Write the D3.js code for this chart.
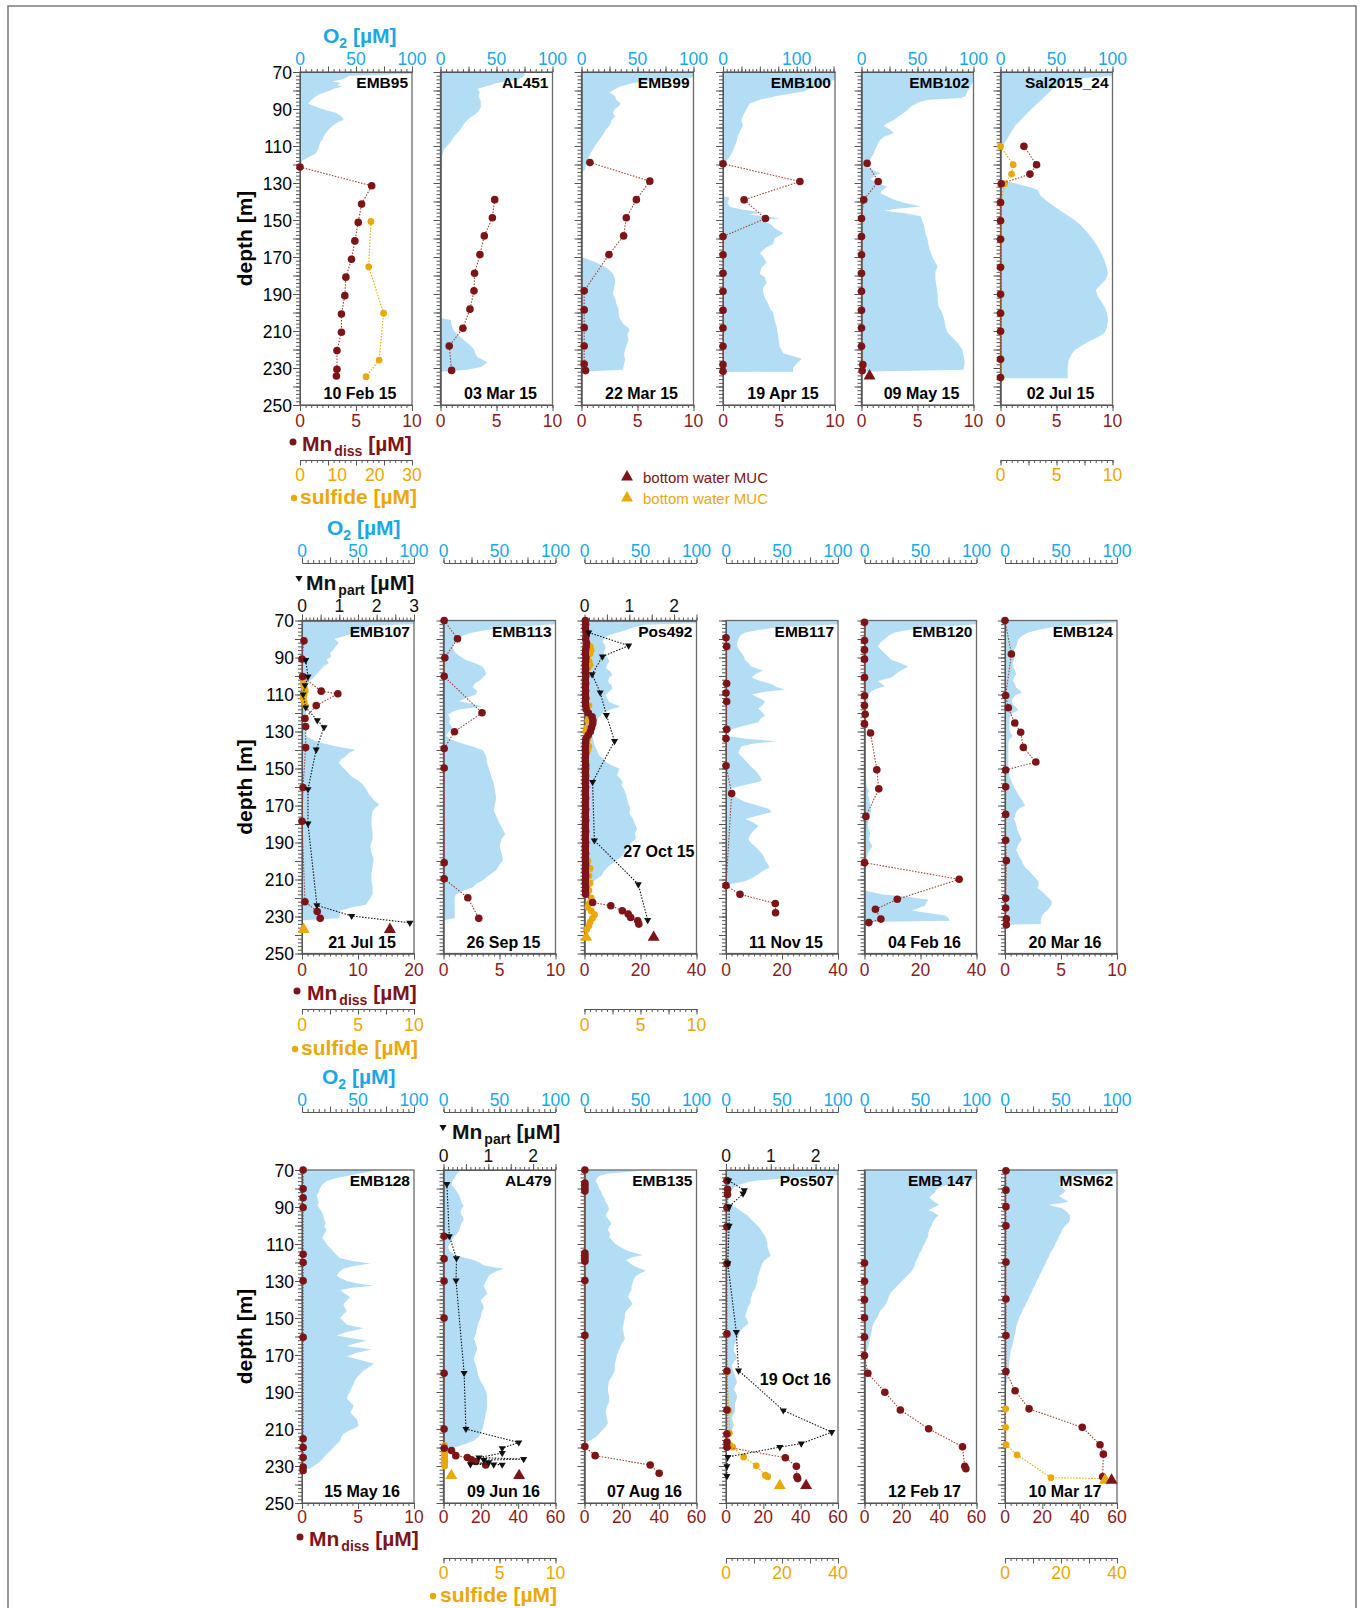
<!DOCTYPE html>
<html>
<head>
<meta charset="utf-8">
<script src="https://cdnjs.cloudflare.com/ajax/libs/d3/7.8.5/d3.min.js"></script>
<style>
body { margin: 0; background: #fff; }
svg { display: block; font-family: "Liberation Sans", Arial, sans-serif; }
</style>
</head>
<body>
<svg id="chart" width="1363" height="1608"></svg>
<script>
// ---- station names, dates and axis ranges (row by row) ----
var stations = [
  ["EMB95", "AL451", "EMB99", "EMB100", "EMB102", "Sal2015_24"],
  ["EMB107", "EMB113", "Pos492", "EMB117", "EMB120", "EMB124"],
  ["EMB128", "AL479", "EMB135", "Pos507", "EMB 147", "MSM62"]
];
var dates = [
  ["10 Feb 15", "03 Mar 15", "22 Mar 15", "19 Apr 15", "09 May 15", "02 Jul 15"],
  ["21 Jul 15", "26 Sep 15", "27 Oct 15", "11 Nov 15", "04 Feb 16", "20 Mar 16"],
  ["15 May 16", "09 Jun 16", "07 Aug 16", "19 Oct 16", "12 Feb 17", "10 Mar 17"]
];
var o2Max = [[100, 100, 100, 152, 100, 100], [100, 100, 100, 100, 100, 100], [100, 100, 100, 100, 100, 100]];
var mnMax = [[10, 10, 10, 10, 10, 10], [20, 10, 40, 40, 40, 10], [10, 60, 60, 60, 60, 60]];
var sulfMax = [[30, 0, 0, 0, 0, 10], [10, 0, 10, 0, 0, 0], [0, 10, 0, 40, 0, 40]];
var partMax = [[0, 0, 0, 0, 0, 0], [3, 0, 2.5, 0, 0, 0], [0, 2.5, 0, 2.5, 0, 0]];
var mnTickLabels = { 10: [0, 5, 10], 20: [0, 10, 20], 40: [0, 20, 40], 60: [0, 20, 40, 60] };
var sulfTickLabels = { 10: [0, 5, 10], 30: [0, 10, 20, 30], 40: [0, 20, 40] };
var depthLabels = [70, 90, 110, 130, 150, 170, 190, 210, 230, 250];

// ---- row 1 profiles: [depth m, value] ----
var o2_EMB95 = [[70,100],[71,100],[72,44],[74,38],[75,29],[76,36],[77,33],[78,38],[79,30],[80,27],[82,17],[84,12],[86,9],[87,7],[88,11],[89.5,17],[91,25],[92,32],[94,37],[96,39],[97,34],[99,29],[101,26],[103,23],[105,21],[106.6,20],[108,18],[110,17],[112,16],[114,14],[116,8],[118,2],[120,0]];
var mn_EMB95 = [[121.4,0],[131.5,6.4],[141.4,5.5],[151.3,5.2],[161.3,4.9],[171.2,4.6],[180.9,4.1],[190.9,4.0],[200.8,3.7],[210.7,3.7],[220.6,3.3],[230.7,3.3],[234.3,3.25]];
var sulf_EMB95 = [[150.8,19.0],[175.3,18.4],[200.4,22.4],[225.7,21.2],[234.7,17.7]];

var o2_AL451 = [[70,75],[72,75],[74,70],[76,50],[77,45],[79,33],[81,35],[83,34],[86,36],[89,36],[92,33],[94,28],[96,24],[98,21],[101,18],[105,12],[108,9],[112,3],[116,1],[120,1.5],[124,1],[128,1],[132,0],[203,0],[204,9],[207,10],[210,12],[213,17],[215,21],[218,27],[220,30],[222,31],[224,33],[227,42],[229.5,36],[231,24],[232,0]];
var mn_AL451 = [[139,4.84],[148.8,4.63],[158.6,3.91],[168.7,3.52],[178.8,3.04],[188.3,2.99],[198.2,2.63],[208.5,2.0],[218.1,0.78],[231.3,0.99]];

var o2_EMB99 = [[70,100],[73,100],[74,70],[76,46],[78,34],[80,28],[81,25],[83,30],[85,31],[87,35],[88.6,33],[90,30],[92,28],[94,30],[96,27],[99,25],[101,22],[104,19],[106.6,16],[109,13],[112,10],[114,8],[117,6],[120,4],[123,3],[124,0],[170,0],[171,4.5],[173,13],[175,20],[177,25],[179,28],[182,30],[184,30],[187,29],[190,28],[192,30],[195,31],[198,33],[200,33],[203,34],[206,37],[209,43],[212,41],[215,42],[218,40],[220,39],[223,38],[225.6,39],[228,38],[231,37],[232,0]];
var mn_EMB99 = [[118.9,0.75],[129,6.1],[139,4.9],[148.8,4.0],[158.6,3.76],[168.7,2.45],[188.3,0.24],[198.6,0.24],[208.2,0.24],[218.1,0.24],[227.8,0.24],[231.4,0.36]];

var o2_EMB100 = [[70,152],[74,152],[76,141],[78,125],[80.5,109],[83,73],[85,50],[87,36],[90,32],[93,28],[96,25],[99,27],[102,23],[105,20],[108,18],[110,16],[113,13],[116,9],[118,5],[120,2],[121,0],[137,0],[138,9],[141,6],[143,10],[144.5,27],[146,55],[147,35],[149,77],[150.5,50],[152,64],[155,72],[157,82],[160,70],[163,68],[165,58],[168,50],[170,55],[173,59],[176,52],[179,50],[181,57],[184,59],[187,54],[190,55],[193,58],[195,61],[198,64],[200,68],[204,70],[208,73],[213,75],[216,76],[218.5,77],[222,82],[225,107],[227.5,100],[230,95],[232,95],[232.1,0]];
var mn_EMB100 = [[119.6,0],[129.2,6.87],[139.1,1.88],[149.2,3.79],[158.9,0],[168.8,0],[178.8,0],[188.5,0],[198.8,0],[208.4,0],[218.3,0],[228.2,0],[231.8,0]];

var o2_EMB102 = [[70,100],[75,100],[77,98],[80,95],[83,93],[84,89],[85,60],[86,53],[88.6,44],[90,42],[92,38],[94,33],[96,29],[98,22],[99,20],[101,25],[103,29],[105,20],[106.6,17],[108,15],[110,14],[112,12],[114,11],[116,9],[117,8],[119,6],[121,5],[123,10],[124.7,17],[126,12],[128,8],[130,15],[132,23],[134,18],[135.5,17],[137,22],[139,29],[141,40],[142.7,53],[144,30],[145,20],[146.5,40],[148,53],[150,54],[153.5,56],[157,57],[160.7,59],[164,60],[168,62],[171,64],[175,68],[178,66],[182,66],[186,67],[190,68],[194,68],[197,69],[200,72],[204,74],[208,75],[211,77],[214,82],[216.6,86],[220,90],[223,91],[225.6,92],[228,92],[231,91],[232,0]];
var mn_EMB102 = [[119.3,0.5],[129.2,1.49],[139.1,0.2],[149.2,0],[158.9,0],[168.8,0],[178.8,0],[188.5,0],[198.8,0],[208.4,0],[218.3,0],[228.2,0.12],[231.5,0.06]];
var muc_EMB102 = [[234.3,0.72]];

var o2_Sal = [[70,100],[72,100],[73,80],[74,65],[76,55],[78,48],[80,45],[83,40],[86,35],[88.6,30],[91,26],[94,21],[96,18],[99,13],[102,10],[105,7],[107,5],[109,3],[111,1],[113,0],[128,0],[129,5],[130,12],[132,25],[133.7,33],[137,36],[140,42],[142.7,48],[146,56],[150,66],[153,72],[157,78],[161,83],[164.6,87],[168,90],[172,93],[176,95],[179,96],[182,94],[184,91],[186,88],[188,85],[191.5,87],[194,90],[197,93],[200,95],[204,96],[208,95],[211,93],[213,88],[215,81],[217,75],[220,67],[222,64],[225.6,61],[229,60],[233,60],[235.5,60],[235.6,0]];
var mn_Sal = [[110.2,2.09],[120.1,3.22],[125.2,2.63],[130.4,0.06],[140.5,0],[150.4,0],[160.4,0],[175.5,0],[190.1,0],[200.4,0],[210.2,0],[225.3,0],[235.2,0]];
var sulf_Sal = [[110.2,0],[120.1,1.13],[125.2,0.99],[130.4,0.36],[140.5,0.05],[150.4,0.05],[160.4,0.05],[175.5,0.05],[190.1,0.05],[200.4,0.05],[210.2,0.05],[225.3,0.05],[235.2,0.05]];

// ---- row 2 profiles ----
var o2_EMB107 = [[70,100],[72,100],[72.8,60],[74.5,55],[76.5,51],[78,40],[80,29],[82,33],[84,30],[86,28],[87.7,25],[89.5,26],[91.4,22],[93,24],[95,19],[97,16],[99,13],[101,10],[102.6,7],[104,5],[106,4],[110,2],[116,1.5],[121,4],[124,2],[128.6,5],[132,3],[134,8],[136,16],[138,30],[140,48],[141.5,42],[143.5,39],[145,35],[147,33],[149,36],[151,39],[153,42],[154.7,45],[156.5,50],[158.4,54],[161,57],[164,60],[167,64],[169.6,69],[171,66],[173,63],[177,62],[180.8,62],[184,63],[188,63],[192,61],[195.6,62],[199,64],[203,63],[207,62],[210.5,62],[214,63],[218,63],[221,60],[223.6,57],[225,45],[227,33],[229,34],[231,33],[232,0]];
var mn_EMB107 = [[81,0.35],[90.8,0],[100.3,0.1],[108.2,3.43],[109.6,6.4],[116,2.54],[123,0.53],[127.3,0.65],[138.7,0.65],[160.3,0.18],[178.5,0],[222,0.53],[227.3,2.72],[231,3.25]];
var part_EMB107 = [[91.4,0.1],[100.3,0.16],[105,0.08],[110,0.03],[117,0.1],[124,0.41],[127.7,0.59],[139.8,0.38],[161.2,0.16],[179.8,0.16],[224,0.4],[229.7,1.33],[233.4,2.89]];
var sulf_EMB107 = [[104,0.1],[106,0.2],[108,0.3],[110,0.2],[112,0.1],[114,0.2],[116,0.3]];
var muc_EMB107 = [[237,15.7]];
var mucS_EMB107 = [[237,0.15]];

var o2_EMB113 = [[70,100],[72,100],[73.7,58],[75,40],[76.5,26],[78,18],[80,14],[82,10],[84,8],[86,9],[87.7,11],[89.5,15],[91.4,20],[93,28],[95,35],[97,37],[99,38],[101,35],[102.6,32],[104,28],[106,26],[108,30],[110,29],[112,20],[113.7,14],[115,25],[116.5,35],[118,15],[119.3,8],[121,4],[123,6],[125,5],[127,7],[128.6,8],[130,5],[132,2],[134,6],[136,14],[138,25],[140,35],[142,37],[143.5,38],[147,39],[151,41],[155,43],[158.4,45],[162,46],[166,47],[169,46],[173,45],[177,48],[180.8,51],[183,53],[185.4,55],[188,52],[192,50],[196,52],[199.4,53],[202,50],[205,47],[208,40],[210.5,35],[212,30],[214.3,26],[216,18],[218,11],[220,10],[223.6,10],[227,10],[231,10],[232,0]];
var mn_EMB113 = [[70,0.06],[79.9,1.25],[90.1,0.12],[100.2,0.06],[119.9,3.44],[130.1,0.98],[139.2,0.06],[149.7,0.06],[200.9,0.06],[209.6,0.06],[219.9,2.17],[231,3.15]];

var o2_Pos492 = [[70,100],[71.5,100],[72.3,54],[73.5,45],[75,38],[76.5,30],[77.8,22],[79.5,18],[81.4,16],[83,18],[85,19],[87,17],[88.6,18],[90.5,21],[92.2,22],[94,20],[95.8,19],[97.5,23],[99.5,25],[101,22],[103,21],[105,24],[106.7,25],[108.5,22],[110.3,19],[112,20],[114,22],[115.5,28],[116.6,32],[118,24],[119.3,19],[121,15],[123,12],[125,11],[126.6,10],[129,8],[132,7],[135,8],[137.4,9],[140,11],[142.8,13],[144.5,16],[146.5,19],[148.5,25],[150,31],[152,30],[153.7,29],[155.5,32],[157.3,34],[159,33],[161,35],[164,37],[166.3,38],[169,39],[171.8,41],[174,40],[177,43],[180,45],[182.6,47],[185,45],[188,46],[190,42],[193.4,37],[195,36],[197,34],[200,28],[202.5,22],[205,18],[208,15],[210,10],[211.5,7],[213,5],[215,3],[218.7,0]];
var mn_Pos492 = [[70,0.3],[72,0.4],[74,0.3],[76,0.5],[78,0.6],[80,0.4],[82,0.7],[84,0.6],[86,0.4],[88,0.3],[90,0.5],[92,0.4],[94,0.3],[96,0.4],[98,0.3],[100,0.4],[102,0.3],[104,0.4],[106,0.3],[108,0.4],[110,0.3],[112,0.4],[114,0.3],[116,0.4],[118,0.6],[120,1.4],[122,2.7],[124,3.0],[126,2.9],[128,2.5],[130,2.1],[132,1.3],[134,0.5],[136,0.4],[138,0.3],[140,0.3],[142,0.4],[144,0.3],[146,0.3],[148,0.4],[150,0.3],[152,0.3],[154,0.4],[156,0.3],[158,0.3],[160,0.4],[162,0.3],[164,0.3],[166,0.4],[168,0.3],[170,0.3],[172,0.4],[174,0.3],[176,0.3],[178,0.4],[180,0.3],[182,0.3],[184,0.4],[186,0.3],[188,0.3],[190,0.4],[192,0.3],[194,0.3],[196,0.4],[198,0.3],[200,0.3],[202,0.4],[204,0.3],[206,0.3],[208,0.4],[210,0.3],[212,0.3],[214,0.4],[216,0.3],[218,0.4],[222.4,2.9],[224.2,9.4],[226.9,13.5],[228.7,15.6],[230.5,16.5],[232.3,19],[234.1,19.4]];
var part_Pos492 = [[76.5,0.095],[83.6,0.985],[89.5,0.4],[99.1,0.17],[108.9,0.35],[121.1,0.49],[135.2,0.67],[157.3,0.18],[188.9,0.22],[212.6,1.2],[231.9,1.41]];
var sulf_Pos492 = [[84,0.5],[86,0.6],[88,0.5],[92,0.4],[94,0.5],[96,0.3],[100,0.2],[112,0.2],[116,0.4],[124,0.3],[128,0.2],[130,0.1],[134,0.3],[138,0.4],[140,0.3],[150,0.2],[200,0.3],[204,0.5],[208,0.4],[212,0.5],[216,0.4],[220,0.6],[223,0.4],[225,0.3],[227,0.6],[229,0.9],[231,0.7],[233,0.5],[235,0.4],[237,0.2]];
var muc_Pos492 = [[241.3,24.7]];
var mucS_Pos492 = [[241.3,0.15]];

var o2_EMB117 = [[70,100],[72,100],[73.7,47],[75,30],[76.5,17],[78,13],[80,11],[82,10],[84,10],[86,12],[87.7,14],[89.5,16],[91.4,17],[93,20],[95,23],[97,33],[99,26],[100.8,23],[102.5,30],[104.5,41],[106,45],[107.3,53],[108.5,35],[110,23],[112,30],[113.8,35],[115.5,33],[117.6,29],[119.5,32],[121.3,35],[123,31],[125,29],[127,15],[128.8,5],[130.5,3],[132.5,2],[134,20],[135.3,45],[136.5,25],[138,14],[140,12],[141.8,11],[143.5,14],[145.6,17],[147.5,20],[149.3,23],[151,26],[153,29],[155,31],[156.8,32],[158.5,20],[160.5,5],[162.5,4],[164.2,5],[166,10],[168,17],[170,28],[171.7,38],[173.5,41],[175.5,28],[177.3,17],[179,24],[181,29],[183,26],[184.7,23],[186.5,21],[188.5,20],[190.5,23],[192.2,26],[194,29],[196,32],[198,34],[199.7,35],[201.5,37],[203.4,39],[205,34],[207,29],[209,24],[211,17],[212.7,2],[213.5,0]];
var mn_EMB117 = [[79.3,0],[84,0.24],[104.1,0.24],[109.2,0],[113.8,0.24],[128.8,0.24],[133.8,0],[148.5,0],[163.5,2.03],[213.3,0],[218,5.0],[223,17.6],[228,17.7]];

var o2_EMB120 = [[70,100],[72,100],[73.7,60],[75,40],[76.5,27],[78,22],[80,18],[82,14],[84,12],[86,15],[87.7,18],[89.5,21],[91.4,24],[93,32],[95,39],[96.5,34],[98,30],[99.5,27],[100.8,24],[102.7,12],[104,15],[105.5,18],[107,10],[108.3,6],[110,4],[113,3],[116,2],[120,1],[125,0.5],[150,0.5],[155,1],[160,2],[162,4],[164,3],[166,4],[170,5],[173,6],[177,4],[181,3],[185,5],[188.5,4],[192,7],[196,3],[199.7,2],[203,1],[208,0.5],[216,0.5],[218,15],[219.5,40],[221,57],[222.5,55],[224,54],[225.5,48],[226.7,42],[228,55],[229.5,72],[231,75],[232.3,76],[233,0]];
var mn_EMB120 = [[71,0],[80.8,0],[85.9,0],[90.9,0],[100.8,0],[110.7,0],[116,0],[120.7,0.24],[125.9,0],[130.8,2.15],[150.7,4.4],[161,5.1],[175.9,0.5],[200.9,0],[209.9,33.8],[220.7,11.7],[226.1,3.9],[231.4,5.85],[233.3,1.55]];

var o2_EMB124 = [[70,100],[71,100],[72.5,70],[73.7,42],[75,30],[76.5,21],[78,16],[80,12],[82,11],[84,10],[86,8],[87.7,7],[89.5,9],[91.4,8],[93,7],[95,7],[97,9],[99,10],[101,8],[102.6,7],[104.5,9],[106.3,10],[107.5,13],[109,15],[110.5,9],[112,7],[114,6],[116,8],[117.5,11],[118.5,12],[120,7],[121.3,5],[123,4],[125,4],[127,4],[129,4],[131,5],[132.5,7],[134,4],[136,3],[140,3],[145,3],[150,3],[154,4],[156,5],[158.6,7],[161,9],[164.2,12],[167,15],[170,18],[171.5,13],[173.5,10],[175.5,9],[177.3,8],[180,10],[183,11],[186,13],[188.5,15],[191,12],[194,10],[197,12],[199.7,15],[201.5,16],[203.4,18],[205,21],[207,24],[209,27],[211,30],[213,30],[214.6,29],[216.5,33],[218.3,36],[220,39],[222,42],[224,41],[225.8,39],[227.5,36],[229.5,33],[232,32],[234,32],[234.5,0]];
var mn_EMB124 = [[70,0],[88.1,0.57],[110.5,0.06],[117.2,0.3],[125.4,0.87],[130.4,1.4],[138.6,1.64],[146.5,2.75],[150.8,0.06],[159.9,0.06],[174.8,0.06],[188.8,0.06],[199.8,0.12],[220.2,0.06],[225.4,0.06],[231.3,0.12],[234.5,0.12]];

// ---- row 3 profiles ----
var o2_EMB128 = [[70,100],[70.4,64],[71.5,55],[73.2,40],[74.5,30],[76,22],[78,18],[80,16],[82,15],[83.6,13],[85.5,14],[87.4,15],[89.3,14],[91.2,16],[93,18],[95,19],[97,20],[98.8,21],[100.7,20],[102.6,22],[104.5,20],[106.4,18],[108.3,20],[110.2,22],[112,25],[114,28],[116,31],[117.7,34],[119.2,45],[120.6,61],[122,45],[123.4,37],[125.3,33],[127.2,31],[128.6,35],[130,40],[131.3,50],[132.5,64],[133.6,45],[134.8,34],[136.7,38],[138.6,43],[140.5,40],[142.4,37],[144.3,38],[146.2,40],[148,37],[150,34],[151.8,37],[153.7,40],[155.6,55],[157.5,40],[159.4,31],[161,45],[162.3,58],[163.7,48],[165.1,40],[167,62],[168.9,48],[170.8,40],[172.7,52],[174.6,64],[176.5,60],[178.4,55],[180.3,52],[182.2,49],[184,47],[186,46],[188,44],[189.7,43],[191.6,41],[193.5,40],[195.4,43],[197.3,46],[199.2,45],[201,43],[203,46],[204.9,49],[206.8,50],[208.7,50],[210.6,43],[212.5,37],[214.4,35],[216.3,34],[218.2,31],[220,28],[222,25],[223.8,22],[225.7,19],[227.6,16],[229.5,12],[231.4,7],[232,0]];
var mn_EMB128 = [[70,0.1],[80.2,0.1],[85,0.1],[90.3,0.1],[115.5,0.1],[120,0.1],[129.9,0.1],[160.4,0.1],[215.3,0.1],[220,0.1],[225.4,0.1],[230.5,0.1],[232.4,0.1]];

var o2_AL479 = [[70,18],[70.4,15],[72,12],[74,10],[76,8],[78,7],[80,10],[81.7,12],[83.6,14],[85.5,15],[87.4,16],[89.3,18],[91.2,16],[93,15],[95,17],[97,18],[98.8,16],[100.7,15],[102.6,14],[104.5,12],[106.4,9],[108.3,7],[110.2,5],[112,4],[114,6],[115.8,10],[117.3,18],[118.7,27],[120,32],[121.5,36],[122.5,45],[123.4,54],[124.8,47],[126.3,42],[127.7,40],[129.1,39],[131,37],[133,36],[135,38],[136.7,39],[138.6,36],[140.5,33],[142.4,35],[144.3,36],[147,34],[150,33],[153,31],[155.6,30],[158.5,29],[161.3,27],[164,29],[167,30],[170,28],[172.7,27],[175.5,29],[178.4,30],[181,31],[184,33],[187,36],[189.7,38],[192.5,39],[195.4,39],[198,39],[201,38],[204,37],[206.8,36],[209.6,35],[212.5,33],[214.4,31],[216.3,27],[218,20],[220,10],[222,0]];
var mn_AL479 = [[105.8,0.3],[118,0.3],[130,0.3],[150,0.3],[179.9,0.3],[210,0.3],[220.4,0.36],[221.6,4.3],[224.4,6.6],[225.4,12.8],[226.7,15],[227.6,17.3],[229.5,22.6]];
var part_AL479 = [[77.6,0.075],[105.8,0.13],[117.7,0.29],[129.7,0.28],[179.7,0.46],[210,0.5],[217.3,1.68],[220.4,1.31],[223,1.31],[225.4,0.79],[226.3,1.79],[226.8,0.9],[228,1.01],[229.1,0.6],[229.2,1.12],[229.3,1.31]];
var sulf_AL479 = [[219,0.1],[220,0.1],[221,0.1],[222,0.1],[223,0.1],[224,0.1],[225,0.1],[226,0.1],[227,0.1],[228,0.1],[229,0.1],[230,0.1]];
var muc_AL479 = [[235.2,40.5]];
var mucS_AL479 = [[235.2,0.7]];

var o2_EMB135 = [[70,60],[71,40],[72,20],[73.2,13],[74.5,11],[76,10],[78,12],[80,13],[81.7,15],[83.6,16],[85.5,18],[87.4,19],[89.3,21],[91.2,22],[93,20],[95,19],[97,22],[98.8,24],[100.7,22],[102.6,21],[104.5,23],[106.4,22],[108.3,25],[110.2,28],[112,33],[114,40],[115.9,52],[117.3,42],[118.7,37],[120,40],[121.5,43],[123,48],[124.4,55],[125.8,50],[127.2,46],[129,44],[131,43],[133,42],[134.8,42],[136.7,40],[138.6,39],[140.5,41],[142.4,43],[144.3,40],[146.2,37],[148,36],[150,36],[153,35],[155.6,34],[158.5,35],[161.3,36],[164,33],[167,31],[170,29],[172.7,28],[175.5,27],[178.4,27],[181,25],[184,22],[187,21],[189.7,21],[192.5,22],[195.4,22],[198,20],[201,19],[204,20],[206.8,21],[208.7,19],[210.6,16],[212.5,13],[214.4,10],[216,6],[217.2,1.5],[218,0]];
var mn_EMB135 = [[70,0.2],[77,0.2],[78.3,0.2],[79.9,0.2],[81.4,0.2],[114.9,0.2],[116.2,0.2],[117.7,0.2],[119.3,0.2],[129.7,0.2],[159.4,0.2],[219.5,0.2],[224.4,5.7],[229.5,35.2],[233.9,40]];

var o2_Pos507 = [[70,100],[72.8,100],[73.8,70],[74.7,48],[75.6,30],[76.6,19],[78,12],[79.4,7],[81,5],[83.2,4],[85,3],[87,2],[89,5],[90.7,10],[92.5,14],[94.5,19],[96.5,22],[98.3,25],[100,28],[102,31],[104,33],[105.8,35],[107.7,36],[109.6,37],[111.5,37],[113.3,38],[115,39],[116.2,40],[117.5,37],[119,34],[121,32],[122.8,31],[124.7,30],[126.5,29],[128.4,28],[130.3,28],[132.2,27],[134,26],[136,24],[137.9,23],[139.8,22],[141.6,22],[143.5,20],[145.4,19],[147.3,18],[149.2,17],[151,19],[153,20],[154.8,16],[156.7,13],[158.6,12],[160.5,11],[162.4,9],[164.2,8],[166,7],[168,7],[170,9],[171.8,10],[173.6,7],[175.5,5],[178,6],[181.2,8],[183,9],[185,10],[186.8,8],[188.7,7],[190.6,9],[192.5,10],[194.4,9],[196.3,8],[198,8],[200,8],[202,7],[203.8,5],[205.7,6],[207.6,7],[209.5,6],[211.3,5],[213,4],[215,2],[217,1],[219,0]];
var mn_Pos507 = [[75.7,0.5],[80.4,0.8],[83.2,0.8],[90.4,0.5],[100.7,0.5],[120.5,0.5],[158.6,0.5],[178.7,0.5],[199.7,0.5],[212.7,0.5],[217,0.5],[219.8,0.5],[225.5,31.8],[230.2,37.7],[235.8,38],[236.8,38.4]];
var part_Pos507 = [[75.7,0.06],[81,0.41],[82.8,0.38],[89.8,0.07],[100.2,0.07],[120.5,0.04],[157.6,0.23],[178.4,0.28],[200,1.28],[211.7,2.36],[217.9,1.68],[219.8,1.2],[225.1,0.04],[230.2,0.02],[235.5,0.02]];
var sulf_Pos507 = [[179.3,0.36],[200,1],[212.3,1.2],[218.9,1.5],[219.8,2.4],[225.1,6.3],[229.9,10.8],[235,14],[235.8,14.9]];
var muc_Pos507 = [[240.6,42.9]];
var mucS_Pos507 = [[240.6,19.2]];

var o2_EMB147 = [[70,100],[74.7,100],[75.5,95],[76.6,87],[78,75],[79.4,66],[80.8,64],[82.2,63],[83.6,60],[85,58],[87,62],[88.8,67],[90.2,62],[91.7,57],[93,62],[94.5,66],[96.4,63],[98.3,61],[100,60],[102,58],[104,57],[105.8,57],[107.7,55],[109.6,54],[111.5,52],[113.3,51],[115.2,49],[117.1,48],[119,46],[120.9,45],[122.8,44],[124.7,42],[126.5,39],[128.4,36],[130.3,33],[132.2,30],[134,27],[136,24],[137.9,22],[139.7,21],[141.6,20],[143.5,18],[145.4,15],[147.3,13],[149.2,12],[151,10],[153,8],[154.8,7],[156.7,6.5],[158.6,6],[160.5,5],[162.3,4.5],[164,4],[166,3],[168,2],[170,1.5],[172,1],[173.7,0.6],[177.4,0]];
var mn_EMB147 = [[120.3,0],[130.1,0],[140.1,0],[149.9,0],[160.3,0],[170.3,0],[179.9,1.8],[190.1,10.9],[199.7,19.2],[209.9,34.4],[219.6,52.5],[230.2,53.7],[231.5,54.3]];

var o2_MSM62 = [[70,100],[72,100],[73,70],[73.8,51],[75.5,50],[77.5,48],[79.5,51],[81.3,54],[82.5,52],[84.1,48],[85.5,52],[87,57],[88,50],[88.8,39],[89.8,45],[90.7,51],[92.5,55],[94.5,58],[96.5,58],[98.3,57],[100,54],[102,51],[104,50],[105.8,48],[107.7,47],[109.6,45],[111.5,44],[113.3,42],[115.2,40],[117.1,39],[119,37],[120.9,36],[122.8,34],[124.7,33],[126.5,31],[128.4,30],[130.3,28],[132.2,27],[134,25],[136,24],[137.9,22],[139.7,21],[141.6,19],[143.5,18],[145.4,16],[147.3,15],[149.2,13],[151,12],[153,11],[154.8,10],[156.7,9.5],[158.6,9],[160.5,8],[162.3,7.5],[164,7],[166,6],[168,5],[170,4.5],[172.5,4],[175.5,3.6],[178,3.2],[181.2,3],[183,2.2],[185,1.5],[188.7,0]];
var mn_MSM62 = [[70.4,0.5],[80.9,0.5],[89.8,0.5],[100.2,0.5],[119.8,0.5],[139.7,0.5],[159.5,0.5],[178.9,0.5],[189.3,5.4],[199.1,12.9],[209.1,41.4],[218.5,50.9],[223.6,52.7],[235.8,52.3]];
var sulf_MSM62 = [[199.1,0.24],[209.1,0.24],[218.5,0.36],[224,4.3],[236.3,16.4],[236.8,35.5]];
var muc_MSM62 = [[237.7,57.1]];
var mucS_MSM62 = [[237.7,35.7]];

// group the series per panel
var o2Data = [
  [o2_EMB95, o2_AL451, o2_EMB99, o2_EMB100, o2_EMB102, o2_Sal],
  [o2_EMB107, o2_EMB113, o2_Pos492, o2_EMB117, o2_EMB120, o2_EMB124],
  [o2_EMB128, o2_AL479, o2_EMB135, o2_Pos507, o2_EMB147, o2_MSM62]
];
var mnData = [
  [mn_EMB95, mn_AL451, mn_EMB99, mn_EMB100, mn_EMB102, mn_Sal],
  [mn_EMB107, mn_EMB113, mn_Pos492, mn_EMB117, mn_EMB120, mn_EMB124],
  [mn_EMB128, mn_AL479, mn_EMB135, mn_Pos507, mn_EMB147, mn_MSM62]
];
var sulfData = [
  [sulf_EMB95, [], [], [], [], sulf_Sal],
  [sulf_EMB107, [], sulf_Pos492, [], [], []],
  [[], sulf_AL479, [], sulf_Pos507, [], sulf_MSM62]
];
var partData = [
  [[], [], [], [], [], []],
  [part_EMB107, [], part_Pos492, [], [], []],
  [[], part_AL479, [], part_Pos507, [], []]
];
var mucData = [
  [[], [], [], [], muc_EMB102, []],
  [muc_EMB107, [], muc_Pos492, [], [], []],
  [[], muc_AL479, [], muc_Pos507, [], muc_MSM62]
];
var mucSData = [
  [[], [], [], [], [], []],
  [mucS_EMB107, [], mucS_Pos492, [], [], []],
  [[], mucS_AL479, [], mucS_Pos507, [], mucS_MSM62]
];

// ---- layout ----
var W = 112, H = 333;
var rowTop = [72, 620.5, 1170];
var colLeft = [
  [300, 440.5, 581.5, 723, 861.5, 1000.5],
  [302, 443.5, 584.5, 726, 864.5, 1005],
  [302, 443.5, 584.5, 726, 864.5, 1005]
];
var o2AxisY = [72, 563, 1112];
var o2LabelY = [65, 557, 1106];
var partLabelY = [0, 612, 1162];
var mnLabelY = [427, 976, 1523];
var sulfLineY = [460, 1009, 1558];
var sulfLabelY = [481, 1031, 1579];

var col = {
  o2: "#b3ddf4", cyan: "#1aa8e4", mn: "#7b1518", mnLine: "#a5412d", mnText: "#8b1c1c",
  sulf: "#e9a80b", sulfText: "#eca600", axis: "#555", frame: "#6a6a6a"
};

var svg = d3.select("#chart");

// outer frame of the figure
svg.append("path")
  .attr("d", "M8,1610 L8,6 L1356,6 L1356,1610")
  .attr("fill", "none")
  .attr("stroke", "#7d7d7d")
  .attr("stroke-width", 1.6);

function ticks(g, axis, pos, horizontal) {
  var t = g.append("g")
    .attr("transform", horizontal ? "translate(0," + pos + ")" : "translate(" + pos + ",0)")
    .call(axis.tickSizeOuter(0).tickFormat(""));
  t.selectAll("path,line").attr("stroke", col.axis).attr("stroke-width", 1);
  return t;
}

function tickLabels(g, scale, values, y, color) {
  g.append("g").selectAll("text")
    .data(values)
    .enter().append("text")
    .attr("x", function(d) { return scale(d); })
    .attr("y", y)
    .attr("text-anchor", "middle")
    .attr("font-size", 17.5)
    .attr("fill", color)
    .text(function(d) { return d; });
}

function steps(max, step) {
  return d3.range(0, max + step / 2, step);
}

var triDown = d3.symbol().type(d3.symbolTriangle).size(22)();
var triBig = d3.symbol().type(d3.symbolTriangle).size(62)();

for (var r = 0; r < 3; r++) {
  for (var c = 0; c < 6; c++) {
    drawPanel(r, c);
  }
}

function drawPanel(r, c) {
  var left = colLeft[r][c], top = rowTop[r];
  var g = svg.append("g");

  var y = d3.scaleLinear().domain([70, 250]).range([top, top + H]);
  var xO2 = d3.scaleLinear().domain([0, o2Max[r][c]]).range([left, left + W]);
  var xMn = d3.scaleLinear().domain([0, mnMax[r][c]]).range([left, left + W]);

  // O2 profile as filled area
  var clipId = "clip" + r + c;
  g.append("clipPath").attr("id", clipId)
    .append("rect").attr("x", left).attr("y", top).attr("width", W).attr("height", H);
  g.append("path")
    .datum(o2Data[r][c])
    .attr("clip-path", "url(#" + clipId + ")")
    .attr("fill", col.o2)
    .attr("d", d3.area()
      .y(function(d) { return y(d[0]); })
      .x0(xO2(0))
      .x1(function(d) { return xO2(d[1]); }));

  // frame
  g.append("rect")
    .attr("x", left).attr("y", top).attr("width", W).attr("height", H)
    .attr("fill", "none").attr("stroke", col.frame).attr("stroke-width", 1.3);

  // depth axis
  ticks(g, d3.axisLeft(y).tickValues(d3.range(70, 251, 2)).tickSize(4), left, false);
  ticks(g, d3.axisLeft(y).tickValues(d3.range(70, 251, 10)).tickSize(7), left, false);
  if (c === 0) {
    g.append("g").selectAll("text")
      .data(depthLabels)
      .enter().append("text")
      .attr("x", left - 8)
      .attr("y", function(d) { return y(d) + 6.5; })
      .attr("text-anchor", "end")
      .attr("font-size", 17.5)
      .text(function(d) { return d; });
  }

  // O2 axis (top)
  var o2Ticks = o2Max[r][c] > 100 ? [0, 100] : [0, 50, 100];
  ticks(g, d3.axisTop(xO2).tickValues(steps(o2Max[r][c] - 2, 5)).tickSize(3), o2AxisY[r], true);
  ticks(g, d3.axisTop(xO2).tickValues(steps(o2Max[r][c] - 2, 25)).tickSize(5.5), o2AxisY[r], true);
  tickLabels(g, xO2, o2Ticks, o2LabelY[r], col.cyan);

  // Mn_diss axis (bottom)
  var mnMaxV = mnMax[r][c];
  ticks(g, d3.axisBottom(xMn).tickValues(steps(mnMaxV, mnMaxV / 20)).tickSize(3), top + H, true);
  ticks(g, d3.axisBottom(xMn).tickValues(mnTickLabels[mnMaxV]).tickSize(6), top + H, true);
  tickLabels(g, xMn, mnTickLabels[mnMaxV], mnLabelY[r], col.mnText);

  // Mn_part axis on the frame top
  var xPart = null;
  if (partMax[r][c]) {
    xPart = d3.scaleLinear().domain([0, partMax[r][c]]).range([left, left + W]);
    ticks(g, d3.axisTop(xPart).tickValues(steps(partMax[r][c], 0.1)).tickSize(3), top, true);
    ticks(g, d3.axisTop(xPart).tickValues(steps(partMax[r][c], 0.5)).tickSize(6), top, true);
    tickLabels(g, xPart, d3.range(0, Math.floor(partMax[r][c]) + 1), partLabelY[r], "#111");
  }

  // sulfide axis (separate, below)
  var xS = null;
  if (sulfMax[r][c]) {
    var sm = sulfMax[r][c];
    xS = d3.scaleLinear().domain([0, sm]).range([left, left + W]);
    ticks(g, d3.axisBottom(xS).tickValues(steps(sm, sm / 20)).tickSize(3), sulfLineY[r], true);
    ticks(g, d3.axisBottom(xS).tickValues(steps(sm, sm / 4)).tickSize(5.5), sulfLineY[r], true);
    tickLabels(g, xS, sulfTickLabels[sm], sulfLabelY[r], col.sulfText);
  }

  // sulfide profile
  if (xS && sulfData[r][c].length) {
    g.append("path")
      .datum(sulfData[r][c])
      .attr("fill", "none")
      .attr("stroke", col.sulf)
      .attr("stroke-width", 1.1)
      .attr("stroke-dasharray", "1.5,1.5")
      .attr("d", d3.line().x(function(d) { return xS(d[1]); }).y(function(d) { return y(d[0]); }));
    g.append("g").selectAll("circle")
      .data(sulfData[r][c])
      .enter().append("circle")
      .attr("cx", function(d) { return xS(d[1]); })
      .attr("cy", function(d) { return y(d[0]); })
      .attr("r", 3.4)
      .attr("fill", col.sulf);
  }

  // Mn_diss profile
  g.append("path")
    .datum(mnData[r][c])
    .attr("fill", "none")
    .attr("stroke", col.mnLine)
    .attr("stroke-width", 1.1)
    .attr("stroke-dasharray", "1.5,1.5")
    .attr("d", d3.line().x(function(d) { return xMn(d[1]); }).y(function(d) { return y(d[0]); }));
  g.append("g").selectAll("circle")
    .data(mnData[r][c])
    .enter().append("circle")
    .attr("cx", function(d) { return xMn(d[1]); })
    .attr("cy", function(d) { return y(d[0]); })
    .attr("r", 3.8)
    .attr("fill", col.mn);

  // Mn_part profile
  if (xPart && partData[r][c].length) {
    g.append("path")
      .datum(partData[r][c])
      .attr("fill", "none")
      .attr("stroke", "#111")
      .attr("stroke-width", 1.1)
      .attr("stroke-dasharray", "1.5,1.5")
      .attr("d", d3.line().x(function(d) { return xPart(d[1]); }).y(function(d) { return y(d[0]); }));
    g.append("g").selectAll("path")
      .data(partData[r][c])
      .enter().append("path")
      .attr("d", triDown)
      .attr("transform", function(d) { return "translate(" + xPart(d[1]) + "," + y(d[0]) + ") rotate(180)"; })
      .attr("fill", "#111");
  }

  // bottom water MUC triangles
  if (xS) {
    g.append("g").selectAll("path")
      .data(mucSData[r][c])
      .enter().append("path")
      .attr("d", triBig)
      .attr("transform", function(d) { return "translate(" + xS(d[1]) + "," + y(d[0]) + ")"; })
      .attr("fill", col.sulf);
  }
  g.append("g").selectAll("path")
    .data(mucData[r][c])
    .enter().append("path")
    .attr("d", triBig)
    .attr("transform", function(d) { return "translate(" + xMn(d[1]) + "," + y(d[0]) + ")"; })
    .attr("fill", col.mn);

  // station name and date
  g.append("text")
    .attr("x", left + W - 4)
    .attr("y", top + 16)
    .attr("text-anchor", "end")
    .attr("font-size", 15.5)
    .attr("font-weight", "bold")
    .text(stations[r][c]);

  var dt = g.append("text")
    .attr("font-size", 16)
    .attr("font-weight", "bold")
    .text(dates[r][c]);
  if (stations[r][c] === "Pos492") {
    dt.attr("x", left + W - 2).attr("y", y(198)).attr("text-anchor", "end");
  } else if (stations[r][c] === "Pos507") {
    dt.attr("x", left + W - 7).attr("y", y(186)).attr("text-anchor", "end");
  } else {
    dt.attr("x", left + 60).attr("y", top + H - 6).attr("text-anchor", "middle");
  }
}

// ---- axis titles ----
function subTitle(x, yb, main, sub, rest, color) {
  var t = svg.append("text")
    .attr("x", x).attr("y", yb)
    .attr("font-size", 21).attr("font-weight", "bold")
    .attr("fill", color);
  t.append("tspan").text(main);
  t.append("tspan").attr("font-size", 14).attr("dy", 5).attr("dx", sub === "2" ? 0 : 2).text(sub);
  t.append("tspan").attr("dy", -5).text(rest);
}

var o2TitleY = [43, 535, 1084];
var o2TitleX = [323, 327, 322];
for (var i = 0; i < 3; i++) {
  subTitle(o2TitleX[i], o2TitleY[i], "O", "2", " [µM]", col.cyan);
  svg.append("text")
    .attr("transform", "translate(252," + (rowTop[i] + H / 2) + ") rotate(-90)")
    .attr("text-anchor", "middle")
    .attr("font-size", 21).attr("font-weight", "bold")
    .text("depth [m]");
}

// Mn_diss titles
var mnTitle = [[293, 302, 451], [297, 307, 1000], [300, 309, 1546]];
mnTitle.forEach(function(m) {
  svg.append("circle").attr("cx", m[0]).attr("cy", m[2] - 9).attr("r", 3.5).attr("fill", col.mn);
  subTitle(m[1], m[2], "Mn", "diss", " [µM]", col.mn);
});

// sulfide titles
var sulfTitle = [[294, 300, 504], [295, 301, 1055], [433, 440, 1602]];
sulfTitle.forEach(function(m) {
  svg.append("circle").attr("cx", m[0]).attr("cy", m[2] - 6).attr("r", 3.2).attr("fill", col.sulf);
  svg.append("text")
    .attr("x", m[1]).attr("y", m[2])
    .attr("font-size", 21).attr("font-weight", "bold")
    .attr("fill", col.sulf)
    .text("sulfide [µM]");
});

// Mn_part titles
var partTitle = [[299, 306, 590], [443, 452, 1139]];
partTitle.forEach(function(m) {
  svg.append("path")
    .attr("d", triDown)
    .attr("transform", "translate(" + m[0] + "," + (m[2] - 12) + ") rotate(180)")
    .attr("fill", "#111");
  subTitle(m[1], m[2], "Mn", "part", " [µM]", "#111");
});

// legend
var legendItems = [["bottom water MUC", col.mn, 477], ["bottom water MUC", col.sulf, 498]];
var legend = svg.append("g");
legendItems.forEach(function(it) {
  legend.append("path")
    .attr("d", triBig)
    .attr("transform", "translate(627," + it[2] + ")")
    .attr("fill", it[1]);
  legend.append("text")
    .attr("x", 643).attr("y", it[2] + 6)
    .attr("font-size", 15)
    .attr("fill", it[1])
    .text(it[0]);
});
</script>
</body>
</html>
